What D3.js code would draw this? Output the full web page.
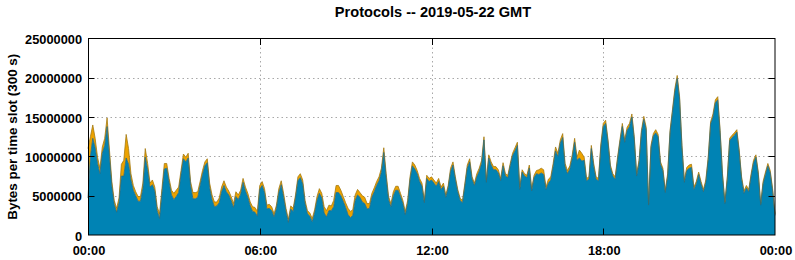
<!DOCTYPE html>
<html lang="en">
<head>
    <meta charset="UTF-8">
    <title>Protocols -- 2019-05-22 GMT</title>
    <script src="https://d3js.org/d3.v7.min.js"></script>
    <style>
        body { margin: 0; background: #fff; }
        svg { display: block; font-family: "Liberation Sans", Arial, sans-serif; font-weight: bold; }
        .grid line { stroke: #a8a8a8; stroke-width: 1; stroke-dasharray: 1.5,3; }
        .tick-label { font-size: 12.8px; fill: #000; }
    </style>
</head>
<body>

<svg></svg>

<script>
    // 5-minute slots from 00:00 to 24:00, values in millions of bytes
    const dayStart = Date.UTC(2019, 4, 22);
    const slotMinutes = 5;

    // lower series (blue)
    const blueMB = [
        4.7, 10.0, 12.3, 11.1, 9.1, 7.8, 10.4, 11.4, 13.8, 10.0,
        6.2, 3.9, 2.9, 4.1, 7.5, 7.5, 9.8, 9.0, 7.0, 5.7,
        5.0, 4.3, 4.3, 5.9, 9.9, 8.3, 6.1, 6.4, 5.6, 3.1,
        2.1, 5.3, 8.4, 8.5, 6.7, 5.1, 4.5, 4.9, 5.4, 7.7,
        9.7, 9.3, 9.8, 6.3, 4.6, 4.6, 4.8, 6.3, 7.7, 8.8,
        9.2, 6.0, 4.5, 3.6, 3.7, 4.1, 5.5, 6.3, 5.5, 5.1,
        4.4, 3.5, 4.9, 4.5, 5.2, 6.7, 5.6, 4.8, 3.7, 3.0,
        2.9, 2.4, 5.8, 6.3, 5.4, 3.3, 3.4, 3.1, 2.3, 3.4,
        5.4, 6.4, 4.8, 3.0, 1.6, 3.3, 3.0, 4.7, 6.9, 7.3,
        6.5, 4.0, 2.7, 2.4, 1.7, 2.8, 4.4, 5.3, 4.7, 2.8,
        2.3, 3.1, 3.1, 3.6, 5.4, 5.4, 5.0, 4.3, 3.5, 2.6,
        2.2, 2.5, 4.4, 5.1, 4.8, 4.2, 4.0, 3.3, 3.4, 4.8,
        5.5, 6.3, 6.9, 8.0, 10.5, 7.3, 4.5, 3.6, 5.0, 5.7,
        5.7, 4.9, 4.0, 2.6, 4.0, 7.0, 8.8, 8.4, 7.8, 6.8,
        6.2, 4.1, 7.2, 6.8, 7.0, 6.6, 6.2, 6.8, 5.8, 6.2,
        4.8, 6.0, 8.1, 8.9, 7.1, 5.5, 4.4, 4.1, 6.3, 8.5,
        9.3, 7.1, 6.3, 7.4, 8.1, 9.1, 12.1, 6.7, 9.8, 8.9,
        8.3, 8.3, 7.9, 6.9, 8.8, 7.5, 7.3, 8.8, 10.1, 10.7,
        11.4, 5.8, 8.0, 7.5, 7.3, 8.5, 5.6, 7.3, 7.8, 7.7,
        7.9, 7.7, 5.8, 6.6, 7.0, 8.7, 10.7, 10.0, 11.7, 12.4,
        8.7, 7.8, 8.4, 9.8, 11.8, 9.5, 9.8, 9.4, 9.5, 6.9,
        7.1, 11.0, 8.7, 7.1, 6.9, 11.2, 13.8, 14.2, 11.8, 8.6,
        7.5, 7.1, 9.6, 11.8, 13.8, 11.8, 13.3, 13.8, 15.0, 12.2,
        7.5, 9.2, 13.0, 14.7, 13.4, 3.8, 11.1, 12.6, 13.0, 12.5,
        9.0, 8.2, 5.4, 7.5, 13.0, 15.6, 18.2, 19.9, 17.3, 11.1,
        6.7, 8.2, 8.5, 8.6, 5.8, 6.5, 7.7, 6.5, 5.5, 6.7,
        9.6, 14.1, 15.0, 16.8, 17.2, 13.0, 7.5, 4.0, 7.1, 12.0,
        12.4, 12.7, 13.1, 10.5, 7.1, 5.3, 6.0, 5.5, 7.5, 9.2,
        9.9, 7.7, 3.8, 6.5, 7.7, 8.8, 7.9, 5.6, 2.5
    ];

    // upper series (orange)
    const orangeMB = [
        6.3, 2.5, 1.7, 1.2, 0.8, 0.7, 0.8, 0.9, 1.1, 0.8,
        0.6, 0.5, 0.5, 0.6, 1.5, 2.0, 3.0, 2.0, 0.8, 0.6,
        0.5, 0.6, 0.6, 0.7, 1.1, 0.8, 0.5, 0.6, 0.5, 0.5,
        0.6, 0.6, 0.7, 0.6, 0.5, 0.6, 0.8, 0.8, 0.7, 0.5,
        0.6, 0.6, 0.6, 0.5, 0.8, 0.8, 0.7, 0.5, 0.5, 0.5,
        0.5, 0.6, 0.6, 0.6, 0.5, 0.6, 0.6, 0.6, 0.6, 0.5,
        0.5, 0.5, 0.6, 0.6, 0.5, 0.5, 0.5, 0.5, 0.5, 0.6,
        0.6, 0.6, 0.5, 0.5, 0.5, 0.5, 0.5, 0.5, 0.4, 0.4,
        0.5, 0.5, 0.5, 0.4, 0.4, 0.4, 0.4, 0.4, 0.5, 0.5,
        0.5, 0.4, 0.4, 0.4, 0.4, 0.4, 0.5, 0.6, 0.6, 0.8,
        0.8, 0.7, 0.6, 0.8, 0.9, 0.9, 0.7, 0.6, 0.6, 0.8,
        0.8, 0.7, 0.7, 0.7, 0.6, 0.8, 0.8, 0.7, 0.6, 0.5,
        0.5, 0.5, 0.5, 0.5, 0.6, 0.5, 0.4, 0.4, 0.5, 0.5,
        0.5, 0.4, 0.4, 0.4, 0.4, 0.4, 0.5, 0.5, 0.4, 0.4,
        0.4, 0.3, 0.4, 0.4, 0.4, 0.4, 0.4, 0.4, 0.3, 0.4,
        0.3, 0.3, 0.4, 0.4, 0.3, 0.3, 0.3, 0.3, 0.3, 0.4,
        0.4, 0.3, 0.3, 0.4, 0.4, 0.4, 0.4, 0.3, 0.4, 0.4,
        0.4, 0.4, 0.4, 0.3, 0.4, 0.3, 0.3, 0.3, 0.3, 0.4,
        0.4, 0.3, 0.3, 0.3, 0.3, 0.4, 0.3, 0.3, 0.4, 0.6,
        0.6, 0.6, 0.3, 0.5, 0.4, 0.4, 0.5, 0.4, 0.4, 0.5,
        0.4, 0.4, 0.4, 0.4, 0.5, 0.4, 1.0, 1.0, 0.4, 0.3,
        0.3, 0.4, 0.4, 0.3, 0.3, 0.4, 0.4, 0.4, 0.3, 0.3,
        0.3, 0.3, 0.3, 0.3, 0.4, 0.3, 0.4, 0.4, 0.4, 0.3,
        0.3, 0.3, 0.3, 0.4, 0.3, 0.2, 0.3, 0.3, 0.4, 0.3,
        0.3, 0.3, 0.3, 0.3, 0.3, 0.3, 0.4, 0.4, 0.3, 0.3,
        0.3, 0.4, 0.4, 0.4, 0.3, 0.3, 0.3, 0.3, 0.3, 0.3,
        0.3, 0.3, 0.4, 0.4, 0.4, 0.3, 0.3, 0.2, 0.3, 0.3,
        0.3, 0.3, 0.3, 0.3, 0.3, 0.3, 0.3, 0.3, 0.3, 0.3,
        0.3, 0.3, 0.2, 0.3, 0.3, 0.3, 0.3, 0.3, 0.2
    ];

    const yTicks = [0, 5000000, 10000000, 15000000, 20000000, 25000000];
    const xTickHours = [0, 6, 12, 18, 24];

    const width = 795, height = 260;
    const margin = { left: 88, right: 20, top: 38.5, bottom: 25 };
    const plotRight = width - margin.right;
    const plotBottom = height - margin.bottom;

    const rows = blueMB.map((b, i) => ({
        t: new Date(dayStart + i * slotMinutes * 60000),
        blue: b * 1e6,
        orange: orangeMB[i] * 1e6
    }));

    const svg = d3.select("svg")
        .attr("width", width)
        .attr("height", height);

    const x = d3.scaleUtc()
        .domain([new Date(dayStart), new Date(dayStart + 24 * 3600000)])
        .range([margin.left, plotRight]);

    const y = d3.scaleLinear()
        .domain([0, 25000000])
        .range([plotBottom, margin.top]);

    const xTicks = xTickHours.map(h => new Date(dayStart + h * 3600000));

    // grid (behind the data)
    const grid = svg.append("g").attr("class", "grid");
    grid.selectAll(".gy")
        .data(yTicks.slice(1, -1))
        .enter().append("line")
        .attr("x1", margin.left).attr("x2", plotRight)
        .attr("y1", d => Math.round(y(d)) + 0.5)
        .attr("y2", d => Math.round(y(d)) + 0.5);
    grid.selectAll(".gx")
        .data(xTicks.slice(1, -1))
        .enter().append("line")
        .attr("x1", d => Math.round(x(d)) + 0.5)
        .attr("x2", d => Math.round(x(d)) + 0.5)
        .attr("y1", margin.top).attr("y2", plotBottom);

    const stack = d3.stack().keys(["blue", "orange"]);
    const series = stack(rows);
    const colors = { blue: "#0083b4", orange: "#eca200" };
    const edges = { blue: "#2d6a78", orange: "#a47a10" };

    const area = d3.area()
        .x(d => x(d.data.t))
        .y0(d => y(d[0]))
        .y1(d => y(d[1]));

    const topLine = d3.line()
        .x(d => x(d.data.t))
        .y(d => y(d[1]));

    // draw orange first, then blue on top of it
    svg.selectAll(".layer")
        .data(series.slice().reverse())
        .enter().append("path")
        .attr("class", "layer")
        .attr("fill", d => colors[d.key])
        .attr("d", area);

    svg.selectAll(".edge")
        .data(series.slice().reverse())
        .enter().append("path")
        .attr("class", "edge")
        .attr("fill", "none")
        .attr("stroke", d => edges[d.key])
        .attr("stroke-width", 0.8)
        .attr("d", topLine);

    // border
    svg.append("rect")
        .attr("x", margin.left + 0.5)
        .attr("y", margin.top)
        .attr("width", plotRight - margin.left - 0.5)
        .attr("height", plotBottom - margin.top)
        .attr("fill", "none")
        .attr("stroke", "#000")
        .attr("stroke-width", 1);

    // inward ticks on all four sides
    const tickLen = 6.5;
    const ticks = svg.append("g").attr("stroke", "#000").attr("stroke-width", 1);
    yTicks.slice(1, -1).forEach(v => {
        const yy = Math.round(y(v)) + 0.5;
        ticks.append("line").attr("x1", margin.left).attr("x2", margin.left + tickLen).attr("y1", yy).attr("y2", yy);
        ticks.append("line").attr("x1", plotRight - tickLen).attr("x2", plotRight).attr("y1", yy).attr("y2", yy);
    });
    xTicks.slice(1, -1).forEach(t => {
        const xx = Math.round(x(t)) + 0.5;
        ticks.append("line").attr("x1", xx).attr("x2", xx).attr("y1", plotBottom).attr("y2", plotBottom - tickLen);
        ticks.append("line").attr("x1", xx).attr("x2", xx).attr("y1", margin.top).attr("y2", margin.top + tickLen);
    });

    // tick labels
    svg.selectAll(".ylab")
        .data(yTicks)
        .enter().append("text")
        .attr("class", "tick-label")
        .attr("x", 82)
        .attr("y", d => y(d) + 5.5)
        .attr("text-anchor", "end")
        .text(d3.format("d"));

    const timeFmt = d3.utcFormat("%H:%M");
    svg.selectAll(".xlab")
        .data(xTicks)
        .enter().append("text")
        .attr("class", "tick-label")
        .attr("x", d => x(d) + 1)
        .attr("y", 255)
        .attr("text-anchor", "middle")
        .text(d => d.getUTCHours() === 0 ? "00:00" : timeFmt(d));

    // title and axis label
    svg.append("text")
        .attr("x", 433)
        .attr("y", 17)
        .attr("text-anchor", "middle")
        .attr("font-size", "14.6px")
        .text("Protocols -- 2019-05-22 GMT");

    svg.append("text")
        .attr("transform", `translate(17, ${(margin.top + plotBottom) / 2}) rotate(-90)`)
        .attr("text-anchor", "middle")
        .attr("font-size", "13.4px")
        .text("Bytes per time slot (300 s)");
</script>

</body>
</html>
